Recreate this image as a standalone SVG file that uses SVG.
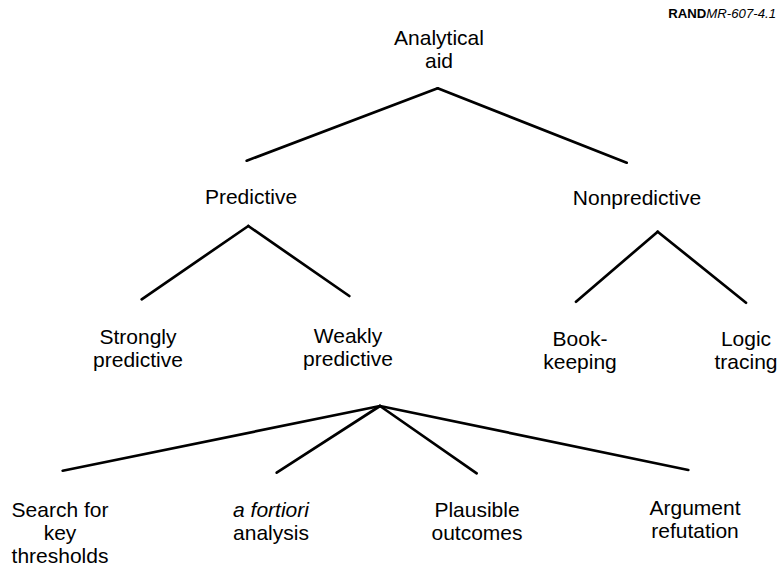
<svg xmlns="http://www.w3.org/2000/svg" width="781" height="569" viewBox="0 0 781 569">
<style>
text{font-family:"Liberation Sans",Arial,sans-serif;font-size:21px;fill:#000;text-anchor:middle}
.conn line{stroke:#000;stroke-width:2.7;stroke-linecap:round}
.tag{font-size:13.2px;text-anchor:end}
</style>
<rect width="781" height="569" fill="#fff"/>
<text class="tag" x="776" y="18"><tspan font-weight="bold">RAND</tspan><tspan font-style="italic">MR-607-4.1</tspan></text>
<g class="conn" id="connectors">
<line x1="437.7" y1="88.3" x2="246.7" y2="160.7"/>
<line x1="437.7" y1="88.3" x2="626.7" y2="162.7"/>
<line x1="248.3" y1="226" x2="141.7" y2="299.3"/>
<line x1="248.3" y1="226" x2="349.3" y2="296"/>
<line x1="657.7" y1="231.7" x2="576" y2="301.7"/>
<line x1="657.7" y1="231.7" x2="746" y2="302.7"/>
<line x1="380" y1="406" x2="62.7" y2="470.7"/>
<line x1="380" y1="406" x2="276.7" y2="472.7"/>
<line x1="380" y1="406" x2="476.7" y2="473.3"/>
<line x1="380" y1="406" x2="688.3" y2="470"/>
</g>
<g id="analytical-aid"><text x="439" y="45">Analytical</text><text x="439" y="68">aid</text></g>
<g id="predictive"><text x="251" y="204">Predictive</text></g>
<g id="nonpredictive"><text x="637" y="205">Nonpredictive</text></g>
<g id="strongly"><text x="138" y="344">Strongly</text><text x="138" y="367">predictive</text></g>
<g id="weakly"><text x="348" y="343">Weakly</text><text x="348" y="366">predictive</text></g>
<g id="bookkeeping"><text x="580" y="346">Book-</text><text x="580" y="369">keeping</text></g>
<g id="logic"><text x="746" y="346">Logic</text><text x="746" y="369">tracing</text></g>
<g id="search"><text x="60" y="517">Search for</text><text x="60" y="540">key</text><text x="60" y="563">thresholds</text></g>
<g id="afortiori"><text x="271" y="517"><tspan font-style="italic">a fortiori</tspan></text><text x="271" y="540">analysis</text></g>
<g id="plausible"><text x="477" y="517">Plausible</text><text x="477" y="540">outcomes</text></g>
<g id="argument"><text x="695" y="515">Argument</text><text x="695" y="538">refutation</text></g>
</svg>
